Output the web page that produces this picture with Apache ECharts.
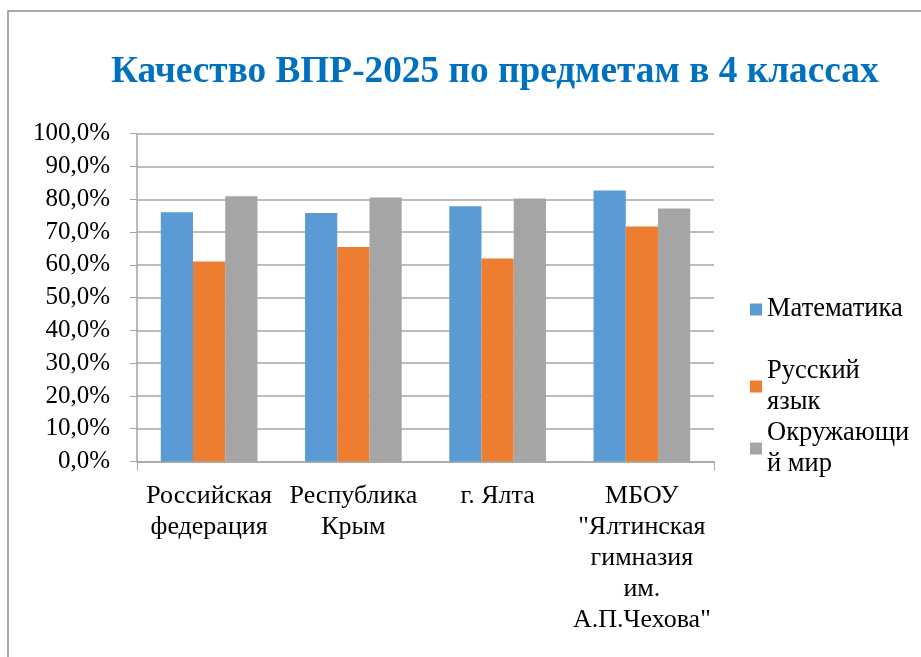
<!DOCTYPE html>
<html><head><meta charset="utf-8">
<script src="https://cdn.jsdelivr.net/npm/echarts@6/dist/echarts.min.js"></script>
<style>html,body{margin:0;padding:0;background:#fff}#c{width:921px;height:657px}</style>
</head><body><div id="c"></div>
<script>
const title = 'Качество ВПР-2025 по предметам в 4 классах';
const categories = ['Российская\nфедерация', 'Республика\nКрым', 'г. Ялта', 'МБОУ\n"Ялтинская\nгимназия\nим.\nА.П.Чехова"'];
const seriesNames = ['Математика', 'Русский язык', 'Окружающий мир'];
const legendLabels = ['Математика', 'Русский\nязык', 'Окружающи\nй мир'];
const math = [76.0, 75.8, 77.9, 82.7];
const russian = [61.0, 65.4, 61.9, 71.7];
const world = [80.9, 80.5, 80.2, 77.2];
const yTicks = [0, 10, 20, 30, 40, 50, 60, 70, 80, 90, 100];
const colors = ['#5B9BD5', '#ED7D31', '#A5A5A5'];

const FAM = 'Liberation Serif';
const chart = echarts.init(document.getElementById('c'));
const values = [math, russian, world];
const legendTops = [294, 340, 402];
function mkLegend(i) {
  return {
    data: [seriesNames[i]], orient: 'vertical', left: 750, top: legendTops[i], padding: 0,
    itemWidth: 12, itemHeight: 12, itemGap: 0, icon: 'rect',
    formatter: () => legendLabels[i],
    selectedMode: false,
    textStyle: { fontFamily: FAM, fontSize: 26.5, color: '#000', lineHeight: 31,
      padding: legendLabels[i].includes('\n') ? [31, 0, 0, 0] : 0 }
  };
}
chart.setOption({
  animation: false,
  color: colors,
  textStyle: { fontFamily: FAM },
  title: { text: title, left: 106, top: 49, textStyle: { fontFamily: FAM, fontWeight: 'bold', fontSize: 37.3, color: '#0070C0' } },
  legend: [mkLegend(0), mkLegend(1), mkLegend(2)],
  grid: { left: 137, right: 207, top: 133.7, bottom: 195.5, containLabel: false },
  xAxis: {
    type: 'category', data: categories,
    axisLine: { lineStyle: { color: '#A6A6A6', width: 1.5 } },
    axisTick: { show: true, length: 9, interval: (idx) => idx === 0, lineStyle: { color: '#A6A6A6' } },
    axisLabel: { fontFamily: FAM, fontSize: 26, color: '#000', lineHeight: 31, margin: 19, interval: 0 }
  },
  yAxis: {
    type: 'value', min: 0, max: 100, interval: 10,
    axisLine: { show: true, lineStyle: { color: '#A6A6A6', width: 1.5 } },
    axisTick: { show: true, length: 7, lineStyle: { color: '#A6A6A6' } },
    splitLine: { lineStyle: { color: '#A6A6A6', width: 1.5 } },
    axisLabel: { fontFamily: FAM, fontSize: 25, color: '#000', margin: 27,
      formatter: v => v.toFixed(1).replace('.', ',') + '%' }
  },
  series: seriesNames.map((n, i) => ({
    name: n, type: 'bar', data: values[i], barGap: '0%', barCategoryGap: '33%',
    itemStyle: { color: colors[i] }
  })),
  graphic: [{ type: 'rect', shape: { x: 8, y: 11, width: 1000, height: 800 }, style: { fill: 'none', stroke: '#8C8C8C', lineWidth: 1.5 }, silent: true, z: -1 }]
});
</script></body></html>
